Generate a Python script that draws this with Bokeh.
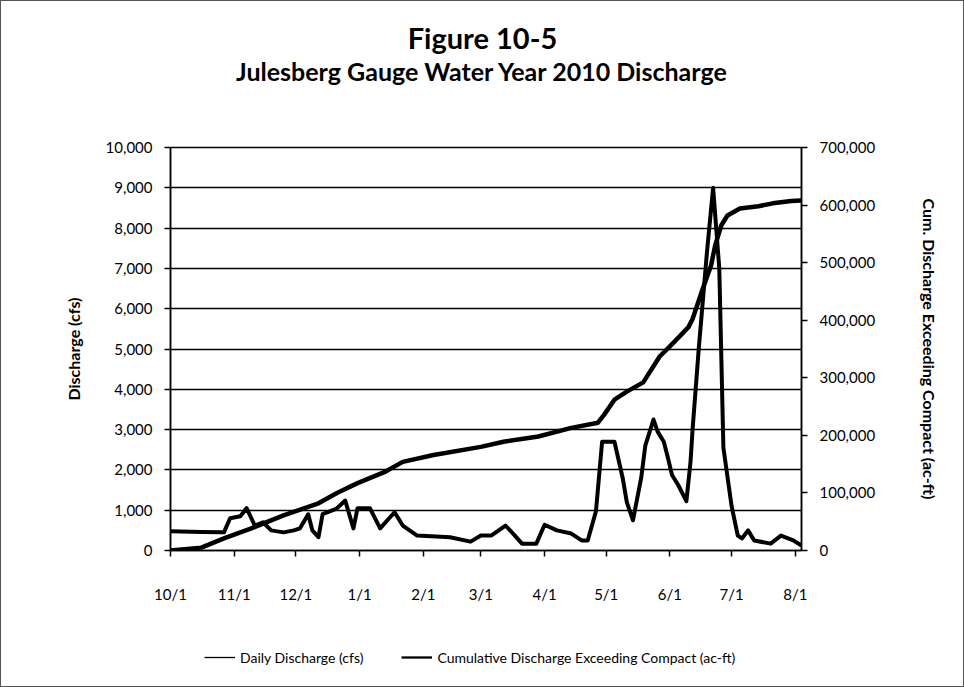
import numpy as np
from bokeh.plotting import figure
from bokeh.layouts import column
from bokeh.models import (ColumnDataSource, LinearAxis, Range1d, FixedTicker,
                          Legend, LegendItem, Label, NumeralTickFormatter,
                          CustomJSTickFormatter)
from bokeh.embed import file_html
from bokeh.resources import INLINE

# ---------------- data ----------------
TITLE = "Figure 10-5"
SUBTITLE = "Julesberg Gauge Water Year 2010 Discharge"

daily_dates = [
    "2009-10-01", "2009-10-16", "2009-10-27", "2009-10-30", "2009-11-04", "2009-11-07",
    "2009-11-11", "2009-11-15", "2009-11-19", "2009-11-25", "2009-11-30", "2009-12-03",
    "2009-12-07", "2009-12-09", "2009-12-12", "2009-12-14", "2009-12-19", "2009-12-21",
    "2009-12-25", "2009-12-29", "2009-12-31", "2010-01-06", "2010-01-11", "2010-01-18",
    "2010-01-22", "2010-01-29", "2010-02-14", "2010-02-24", "2010-03-01", "2010-03-06",
    "2010-03-13", "2010-03-17", "2010-03-21", "2010-03-28", "2010-04-01", "2010-04-07",
    "2010-04-14", "2010-04-19", "2010-04-22", "2010-04-26", "2010-04-29", "2010-05-05",
    "2010-05-09", "2010-05-11", "2010-05-14", "2010-05-18", "2010-05-20", "2010-05-24",
    "2010-05-26", "2010-05-29", "2010-05-31", "2010-06-02", "2010-06-05", "2010-06-09",
    "2010-06-11", "2010-06-12", "2010-06-15", "2010-06-19", "2010-06-22", "2010-06-25",
    "2010-06-27", "2010-07-01", "2010-07-04", "2010-07-06", "2010-07-09", "2010-07-12",
    "2010-07-20", "2010-07-25", "2010-07-31", "2010-08-04",
]
daily_cfs = [
    480, 460, 450, 800, 850, 1050,
    620, 700, 500, 450, 500, 550,
    900, 500, 330, 900, 1000, 1050,
    1240, 550, 1050, 1050, 550, 950,
    620, 370, 330, 220, 370, 370,
    620, 400, 170, 170, 640, 500,
    420, 250, 250, 975, 2700, 2700,
    1800, 1200, 750, 1800, 2600, 3250,
    2950, 2700, 2300, 1875, 1625, 1225,
    2200, 3000, 5000, 7400, 9000, 7000,
    2550, 1100, 370, 300, 500, 250,
    170, 370, 250, 120,
]

cum_dates = [
    "2009-10-01", "2009-10-16", "2009-10-27", "2009-11-09", "2009-11-25", "2009-12-12",
    "2009-12-21", "2009-12-31", "2010-01-13", "2010-01-22", "2010-02-06", "2010-03-01",
    "2010-03-12", "2010-03-29", "2010-04-14", "2010-04-27", "2010-04-30", "2010-05-05",
    "2010-05-11", "2010-05-19", "2010-05-27", "2010-06-03", "2010-06-10", "2010-06-12",
    "2010-06-17", "2010-06-21", "2010-06-23", "2010-06-26", "2010-06-29", "2010-07-05",
    "2010-07-14", "2010-07-21", "2010-07-30", "2010-08-04",
]
cum_acft = [
    0, 5000, 21000, 38000, 61000, 82000,
    100000, 117000, 136000, 154000, 166000, 180000,
    189000, 198000, 213000, 222000, 236000, 262000,
    276000, 292000, 337000, 362000, 388000, 402000,
    455000, 495000, 530000, 565000, 582000, 594000,
    598000, 603000, 607000, 608000,
]

tick_dates = ["2009-10-01", "2009-11-01", "2009-12-01", "2010-01-01", "2010-02-01",
              "2010-03-01", "2010-04-01", "2010-05-01", "2010-06-01", "2010-07-01",
              "2010-08-01"]
tick_labels = ["10/1", "11/1", "12/1", "1/1", "2/1", "3/1", "4/1", "5/1", "6/1", "7/1", "8/1"]

X_START, X_END = "2009-10-01", "2010-08-04"
LEFT_MAX, RIGHT_MAX = 10000, 700000

# ---------------- helpers ----------------
def to_ms(seq):
    return np.array(seq, dtype="datetime64[ms]").astype("int64").astype(float)

FONT = "Lato"
W = 962

def strip(height):
    f = figure(width=W, height=height, output_backend="svg", toolbar_location=None,
               x_axis_location=None, y_axis_location=None,
               min_border_left=0, min_border_right=0, min_border_top=0,
               min_border_bottom=0)
    f.outline_line_color = None
    f.grid.grid_line_color = None
    f.background_fill_color = "white"
    f.border_fill_color = "white"
    return f

# ---------------- title strip (its frame is aligned with the chart frame) ----------------
pt = strip(100)
pt.add_layout(Label(x=312, y=64, x_units="screen", y_units="screen", text=TITLE,
                    text_align="center", text_baseline="middle", text_font=FONT,
                    text_font_style="bold", text_font_size="29px", text_color="black"))
pt.add_layout(Label(x=312, y=31, x_units="screen", y_units="screen", text=SUBTITLE,
                    text_align="center", text_baseline="middle", text_font=FONT,
                    text_font_style="bold", text_font_size="25px", text_color="black"))

# ---------------- main chart ----------------
daily_src = ColumnDataSource(dict(x=to_ms(daily_dates), y=daily_cfs))
cum_src = ColumnDataSource(dict(x=to_ms(cum_dates), y=cum_acft))
x0, x1 = to_ms([X_START, X_END])

p = figure(width=W, height=519, output_backend="svg", toolbar_location=None,
           x_axis_type="datetime", x_range=Range1d(x0, x1),
           y_range=Range1d(0, LEFT_MAX),
           min_border_left=169, min_border_right=162,
           min_border_top=46, min_border_bottom=70)
p.background_fill_color = "white"
p.border_fill_color = "white"
p.outline_line_color = "black"
p.outline_line_width = 1.5

p.extra_y_ranges = {"cum": Range1d(0, RIGHT_MAX)}

p.xgrid.grid_line_color = None
p.ygrid.grid_line_color = "black"
p.ygrid.grid_line_width = 1.5
p.ygrid.ticker = FixedTicker(ticks=list(range(0, LEFT_MAX + 1, 1000)))

xa = p.xaxis[0]
tick_ms = [float(t) for t in to_ms(tick_dates)]
xa.ticker = FixedTicker(ticks=tick_ms, minor_ticks=[])
xa.formatter = CustomJSTickFormatter(args=dict(tvals=tick_ms, tlabels=tick_labels),
                                     code="""
const i = tvals.findIndex(t => Math.abs(t - tick) < 1);
return i >= 0 ? tlabels[i] : "";
""")

ya = p.yaxis[0]
ya.ticker = FixedTicker(ticks=list(range(0, LEFT_MAX + 1, 1000)), minor_ticks=[])
ya.formatter = NumeralTickFormatter(format="0,0")
ya.axis_label = "Discharge (cfs)"

ra = LinearAxis(y_range_name="cum",
                ticker=FixedTicker(ticks=list(range(0, RIGHT_MAX + 1, 100000)), minor_ticks=[]),
                formatter=NumeralTickFormatter(format="0,0"),
                axis_label="Cum. Discharge Exceeding Compact (ac-ft)")
p.add_layout(ra, "right")

for ax in (xa, ya, ra):
    ax.axis_line_color = "black"
    ax.axis_line_width = 1.5
    ax.major_tick_line_color = "black"
    ax.major_tick_line_width = 1.5
    ax.major_tick_in = 0
    ax.major_tick_out = 6
    ax.minor_tick_line_color = None
    ax.major_label_text_font = FONT
    ax.major_label_text_font_size = "15px"
    ax.major_label_text_color = "black"
    ax.axis_label_text_font = FONT
    ax.axis_label_text_font_style = "bold"
    ax.axis_label_text_font_size = "16px"
    ax.axis_label_text_color = "black"

xa.major_label_standoff = 28
ya.major_label_standoff = 12
ra.major_label_standoff = 12
ya.axis_label_standoff = 20
ra.axis_label_standoff = 42

p.line("x", "y", source=daily_src, line_color="black", line_width=4,
       line_join="round")
p.line("x", "y", source=cum_src, y_range_name="cum", line_color="black",
       line_width=4.5, line_join="round")

# ---------------- legend strip ----------------
pl = strip(66)
blank = ColumnDataSource(dict(x=[float("nan")], y=[float("nan")]))
leg_daily = pl.line("x", "y", source=blank, line_color="black", line_width=1.3)
leg_cum = pl.line("x", "y", source=blank, line_color="black", line_width=2.3)
legend = Legend(items=[LegendItem(label="Daily Discharge (cfs)", renderers=[leg_daily]),
                       LegendItem(label="Cumulative Discharge Exceeding Compact (ac-ft)",
                                  renderers=[leg_cum])],
                orientation="horizontal", location=(34, 19),
                glyph_width=31, label_standoff=5, spacing=38, padding=4,
                border_line_color=None, background_fill_alpha=0,
                label_text_font=FONT, label_text_font_size="14px",
                label_text_color="black")
pl.add_layout(legend, "center")

layout = column(pt, p, pl, spacing=0, styles={"border": "1px solid #555"})
open("out.html", "w").write(file_html(layout, INLINE))
